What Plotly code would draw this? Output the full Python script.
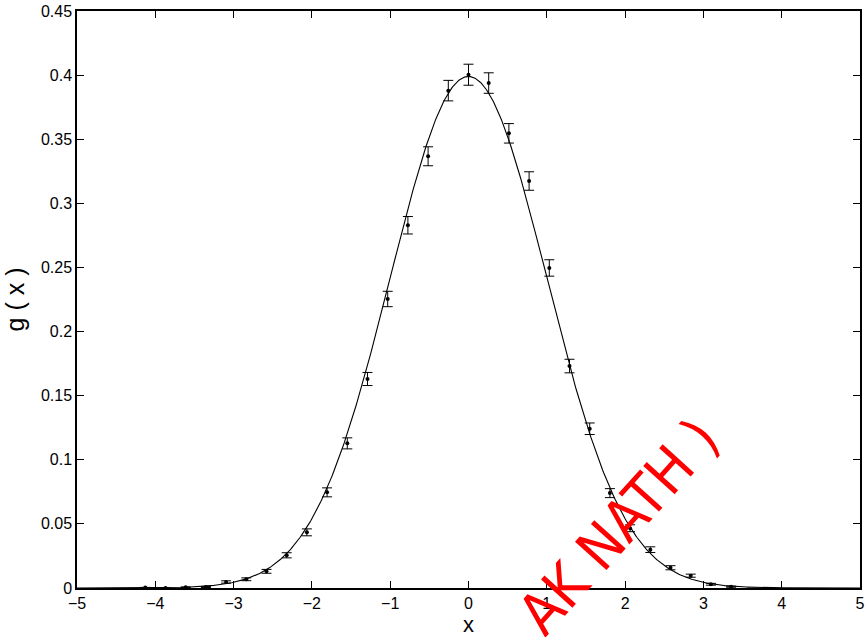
import numpy as np
import plotly.graph_objects as go

# Histogram estimate of g(x): bin centres, heights and statistical errors
x_bins = [-4.128, -3.870, -3.612, -3.354, -3.096, -2.838, -2.580, -2.322,
          -2.064, -1.806, -1.548, -1.290, -1.032, -0.774, -0.516, -0.258,
          0.000, 0.258, 0.516, 0.774, 1.032, 1.290, 1.548, 1.806,
          2.064, 2.322, 2.580, 2.838, 3.096, 3.354]
g_est = [0.0003, 0.0000, 0.0006, 0.0008, 0.0047, 0.0068, 0.0130, 0.0255,
         0.0434, 0.0746, 0.1128, 0.1630, 0.2254, 0.2829, 0.3367, 0.3879,
         0.4003, 0.3938, 0.3546, 0.3174, 0.2496, 0.1731, 0.1242, 0.0740,
         0.0466, 0.0299, 0.0158, 0.0096, 0.0029, 0.0010]
g_err = [0.0002, 0.0000, 0.0003, 0.0004, 0.0009, 0.0011, 0.0015, 0.0020,
         0.0027, 0.0035, 0.0043, 0.0051, 0.0060, 0.0068, 0.0074, 0.0080,
         0.0082, 0.0080, 0.0076, 0.0072, 0.0064, 0.0053, 0.0045, 0.0035,
         0.0027, 0.0022, 0.0016, 0.0012, 0.0007, 0.0004]

x_ticks = [-5, -4, -3, -2, -1, 0, 1, 2, 3, 4, 5]
x_tick_text = ["\u22125", "\u22124", "\u22123", "\u22122", "\u22121", "0", "1", "2", "3", "4", "5"]
y_ticks = [0, 0.05, 0.1, 0.15, 0.2, 0.25, 0.3, 0.35, 0.4, 0.45]
y_tick_text = ["0", "0.05", "0.1", "0.15", "0.2", "0.25", "0.3", "0.35", "0.4", "0.45"]

# Standard normal density g(x)
x_curve = np.linspace(-5, 5, 801)
g_curve = np.exp(-x_curve ** 2 / 2) / np.sqrt(2 * np.pi)

FONT = "Liberation Sans, Arial, Helvetica, sans-serif"
STAMP_FONT = "Liberation Sans Narrow, DejaVu Sans Condensed, Liberation Sans, sans-serif"

fig = go.Figure()
fig.add_trace(go.Scatter(
    x=x_curve, y=g_curve, mode="lines",
    line=dict(color="black", width=1.1),
    hoverinfo="skip", showlegend=False,
))
fig.add_trace(go.Scatter(
    x=x_bins, y=g_est, mode="markers",
    marker=dict(color="black", size=4),
    error_y=dict(type="data", array=g_err, visible=True,
                 color="black", thickness=1, width=5),
    showlegend=False,
))

fig.add_annotation(
    text="AK NATH )", xref="paper", yref="paper",
    x=0.692, y=0.108, xanchor="center", yanchor="middle",
    textangle=-48, showarrow=False,
    font=dict(family=STAMP_FONT, size=58, color="#ff0000"),
)

axis_common = dict(
    showgrid=False, zeroline=False, showline=True, linecolor="black",
    linewidth=1.5, mirror="allticks", ticks="inside", ticklen=7,
    tickwidth=1, tickcolor="black",
    tickfont=dict(family=FONT, size=16, color="black"),
)

fig.update_layout(
    width=868, height=637,
    margin=dict(l=77, r=3, t=9, b=48),
    paper_bgcolor="white", plot_bgcolor="white",
    xaxis=dict(range=[-5, 5], tickvals=x_ticks, ticktext=x_tick_text,
               title=dict(text="x", font=dict(family=FONT, size=22, color="black"),
                          standoff=7),
               **axis_common),
    yaxis=dict(range=[0, 0.45], tickvals=y_ticks, ticktext=y_tick_text,
               title=dict(text="g ( x )", font=dict(family=FONT, size=25, color="black"),
                          standoff=9),
               **axis_common),
)

fig.write_html("out.html")
